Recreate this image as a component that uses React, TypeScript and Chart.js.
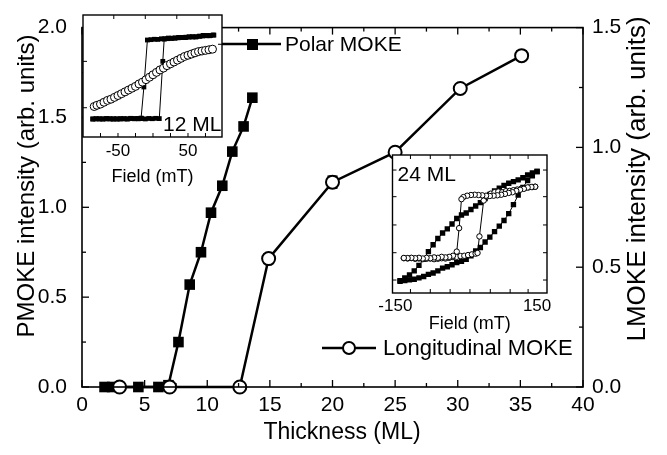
import React, { useEffect, useRef } from 'react';
import { Chart, registerables } from 'chart.js';

Chart.register(...registerables);

const FONT = "'Liberation Sans', Arial, Helvetica, sans-serif";
Chart.defaults.font.family = FONT;
Chart.defaults.color = '#000';

// ---------- main chart data ----------
const polarThickness = [1.8, 2.4, 4.5, 6.1, 6.9, 7.7, 8.6, 9.5, 10.3, 11.2, 12.0, 12.9, 13.6];
const polarIntensity = [0, 0, 0, 0, 0.01, 0.25, 0.57, 0.75, 0.97, 1.12, 1.31, 1.45, 1.61];
const longThickness = [3.0, 7.0, 12.6, 14.9, 20.0, 25.0, 30.2, 35.1];
const longIntensity = [0, 0, 0, 0.536, 0.855, 0.98, 1.246, 1.383];
const longError = [0, 0, 0, 0.02, 0.025, 0.015, 0.015, 0.02];

const xTickValues = [0, 5, 10, 15, 20, 25, 30, 35, 40];
const leftTickValues = [0, 0.5, 1.0, 1.5, 2.0];
const rightTickValues = [0, 0.5, 1.0, 1.5];

const xTitle = 'Thickness (ML)';
const leftTitle = 'PMOKE intensity (arb. units)';
const rightTitle = 'LMOKE intensity (arb. units)';

// ---------- inset 1 (12 ML) ----------
const in1PolarDownField = [87, 82, 77, 72, 67, 62, 57, 52, 47, 42, 37, 32, 27, 22, 17, 12, 7, 2, -3, -8, -13, -17, -22, -27, -32, -37, -42, -47, -52, -57, -62, -67, -72, -77, -82, -86];
const in1PolarDownSignal = [0.835, 0.832, 0.83, 0.833, 0.826, 0.822, 0.82, 0.821, 0.818, 0.815, 0.816, 0.812, 0.81, 0.811, 0.806, 0.805, 0.8, 0.801, 0.798, 0.795, 0.41, 0.155, 0.152, 0.15, 0.153, 0.148, 0.15, 0.147, 0.149, 0.146, 0.15, 0.148, 0.147, 0.15, 0.148, 0.147];
const in1PolarUpField = [-86, -81, -76, -71, -66, -61, -56, -51, -46, -41, -36, -31, -26, -21, -16, -11, -6, -1, 4, 9, 14, 16, 21, 26, 31, 36, 41, 46, 51, 56, 61, 66, 71, 76, 81, 86];
const in1PolarUpSignal = [0.148, 0.15, 0.147, 0.149, 0.152, 0.148, 0.15, 0.147, 0.151, 0.149, 0.148, 0.152, 0.15, 0.149, 0.151, 0.148, 0.152, 0.15, 0.153, 0.151, 0.62, 0.802, 0.806, 0.808, 0.81, 0.813, 0.816, 0.815, 0.819, 0.822, 0.82, 0.826, 0.828, 0.832, 0.83, 0.836];
const in1LongField = [-84, -80, -75, -70, -65, -60, -55, -50, -45, -40, -35, -30, -25, -20, -15, -10, -5, 0, 5, 10, 15, 20, 25, 30, 35, 40, 45, 50, 55, 60, 65, 70, 75, 80, 85];
const in1LongSignal = [0.25, 0.26, 0.27, 0.285, 0.3, 0.31, 0.325, 0.34, 0.355, 0.37, 0.385, 0.4, 0.415, 0.435, 0.45, 0.47, 0.49, 0.51, 0.53, 0.55, 0.565, 0.585, 0.6, 0.615, 0.63, 0.645, 0.66, 0.67, 0.68, 0.69, 0.7, 0.705, 0.71, 0.715, 0.72];
const in1TickLabels = [-50, 50];
const in1BottomTicks = [-75, -50, -25, 0, 25, 50, 75];
const in1TopTicks = [-56, -11, 34, 80];
const in1LeftTicks = [0.24, 0.62];
const in1RightTicks = [0.76];

// ---------- inset 2 (24 ML) ----------
const in2PolarDownField = [150, 140, 130, 120, 110, 100, 90, 80, 70, 60, 50, 40, 30, 20, 10, 0, -10, -20, -30, -40, -50, -60, -70, -80, -90, -100, -110, -120, -130, -140];
const in2PolarDownSignal = [0.88, 0.87, 0.855, 0.835, 0.82, 0.807, 0.795, 0.78, 0.76, 0.74, 0.715, 0.685, 0.655, 0.63, 0.605, 0.58, 0.565, 0.54, 0.5, 0.465, 0.435, 0.395, 0.35, 0.3, 0.245, 0.2, 0.16, 0.13, 0.11, 0.09];
const in2PolarUpField = [-140, -130, -120, -110, -100, -90, -80, -70, -60, -50, -40, -30, -20, -10, 0, 10, 20, 30, 40, 50, 60, 70, 80, 90, 100, 110, 120, 130, 140, 150];
const in2PolarUpSignal = [0.085, 0.09, 0.095, 0.1, 0.11, 0.12, 0.135, 0.145, 0.16, 0.18, 0.19, 0.205, 0.22, 0.23, 0.245, 0.27, 0.305, 0.33, 0.37, 0.405, 0.445, 0.485, 0.525, 0.575, 0.64, 0.71, 0.765, 0.815, 0.85, 0.88];
const in2LongDownField = [146, 138, 130, 122, 114, 106, 98, 90, 82, 74, 66, 58, 50, 42, 34, 26, 18, 10, 2, -6, -10, -15, -20, -28, -36, -44, -52, -60, -68, -76, -84, -92, -100, -108, -116, -124, -132];
const in2LongDownSignal = [0.77, 0.768, 0.765, 0.755, 0.748, 0.74, 0.73, 0.725, 0.718, 0.712, 0.708, 0.705, 0.703, 0.705, 0.708, 0.71, 0.712, 0.71, 0.705, 0.695, 0.68, 0.47, 0.3, 0.27, 0.262, 0.258, 0.262, 0.255, 0.258, 0.252, 0.255, 0.25, 0.255, 0.252, 0.255, 0.253, 0.254];
const in2LongUpField = [-132, -124, -116, -108, -100, -92, -84, -76, -68, -60, -52, -44, -36, -28, -20, -12, -4, 4, 12, 20, 24, 28, 37, 44, 52, 60, 68, 76, 84, 92, 100, 108, 116, 124, 132, 140, 146];
const in2LongUpSignal = [0.252, 0.25, 0.253, 0.248, 0.25, 0.245, 0.248, 0.25, 0.245, 0.248, 0.252, 0.25, 0.255, 0.26, 0.262, 0.268, 0.27, 0.275, 0.28, 0.285, 0.29, 0.41, 0.67, 0.7, 0.72, 0.73, 0.735, 0.73, 0.738, 0.74, 0.745, 0.75, 0.755, 0.76, 0.765, 0.768, 0.77];
const in2TickLabels = [-150, 150];
const in2XTicks = [-118, -76, -34, 8, 51, 93, 131];
const in2YTicks = [0.094, 0.292, 0.493, 0.698, 0.891];

const pts = (xs: number[], ys: number[]) => xs.map((x, i) => ({ x, y: ys[i] }));

function line(ctx: CanvasRenderingContext2D, x1: number, y1: number, x2: number, y2: number) {
  ctx.beginPath();
  ctx.moveTo(x1, y1);
  ctx.lineTo(x2, y2);
  ctx.stroke();
}

function vText(ctx: CanvasRenderingContext2D, text: string, cx: number, cy: number, size: number) {
  ctx.save();
  ctx.translate(cx, cy);
  ctx.rotate(-Math.PI / 2);
  ctx.font = `${size}px ${FONT}`;
  ctx.textAlign = 'center';
  ctx.textBaseline = 'middle';
  ctx.fillStyle = '#000';
  ctx.fillText(text, 0, 0);
  ctx.restore();
}

// ---------- main chart plugin ----------
const mainPlugin = {
  id: 'mainDecor',
  beforeDatasetsDraw(chart: any) {
    const ctx = chart.ctx;
    const meta = chart.getDatasetMeta(0);
    const y2 = chart.scales.y2;
    ctx.save();
    ctx.strokeStyle = '#000';
    ctx.lineWidth = 1.5;
    meta.data.forEach((el: any, i: number) => {
      const e = longError[i];
      if (!e) return;
      const yTop = y2.getPixelForValue(longIntensity[i] + e);
      const yBot = y2.getPixelForValue(longIntensity[i] - e);
      line(ctx, el.x, yTop, el.x, yBot);
      line(ctx, el.x - 5, yTop, el.x + 5, yTop);
      line(ctx, el.x - 5, yBot, el.x + 5, yBot);
    });
    ctx.restore();
  },
  afterDraw(chart: any) {
    const { ctx, chartArea: a, scales } = chart;
    ctx.save();
    ctx.strokeStyle = '#000';
    ctx.lineWidth = 1.6;
    ctx.strokeRect(a.left, a.top, a.right - a.left, a.bottom - a.top);
    ctx.lineWidth = 1.3;
    for (let v = 0; v <= 40; v += 2.5) {
      const px = scales.x.getPixelForValue(v);
      const len = v % 5 === 0 ? 7 : 4;
      line(ctx, px, a.bottom, px, a.bottom - len);
      line(ctx, px, a.top, px, a.top + len);
    }
    for (let v = 0; v <= 2; v += 0.25) {
      const py = scales.y.getPixelForValue(v);
      const len = Math.abs(v * 2 - Math.round(v * 2)) < 1e-6 ? 7 : 4;
      line(ctx, a.left, py, a.left + len, py);
    }
    for (let v = 0; v <= 1.5; v += 0.25) {
      const py = scales.y2.getPixelForValue(v);
      const len = Math.abs(v * 2 - Math.round(v * 2)) < 1e-6 ? 7 : 4;
      line(ctx, a.right, py, a.right - len, py);
    }
    // legends
    ctx.lineWidth = 2.5;
    line(ctx, 215, 44, 281, 44);
    ctx.fillStyle = '#000';
    ctx.fillRect(247, 39, 11, 11);
    line(ctx, 322, 348, 376, 348);
    ctx.beginPath();
    ctx.arc(349, 348, 6, 0, Math.PI * 2);
    ctx.fillStyle = '#fff';
    ctx.fill();
    ctx.lineWidth = 2;
    ctx.stroke();
    ctx.fillStyle = '#000';
    ctx.textBaseline = 'middle';
    ctx.textAlign = 'left';
    ctx.font = `21px ${FONT}`;
    ctx.fillText('Polar MOKE', 285, 45);
    ctx.font = `22px ${FONT}`;
    ctx.fillText('Longitudinal MOKE', 383, 349);
    // axis titles
    ctx.font = `23px ${FONT}`;
    ctx.textAlign = 'center';
    ctx.fillText(xTitle, 342, 433);
    ctx.restore();
    vText(ctx, leftTitle, 27, 186, 24);
    vText(ctx, rightTitle, 638, 179, 26);
  },
};

function mainConfig(): any {
  return {
    type: 'scatter',
    data: {
      datasets: [
        {
          label: 'Longitudinal MOKE',
          data: pts(longThickness, longIntensity),
          yAxisID: 'y2',
          showLine: true,
          borderColor: '#000',
          borderWidth: 2.5,
          pointStyle: 'circle',
          pointRadius: 6.5,
          pointBackgroundColor: '#fff',
          pointBorderColor: '#000',
          pointBorderWidth: 2,
          clip: false,
          order: 0,
        },
        {
          label: 'Polar MOKE',
          data: pts(polarThickness, polarIntensity),
          yAxisID: 'y',
          showLine: true,
          borderColor: '#000',
          borderWidth: 2.5,
          pointStyle: 'rect',
          pointRadius: 7.5,
          pointBackgroundColor: '#000',
          pointBorderColor: '#000',
          pointBorderWidth: 0,
          clip: false,
          order: 1,
        },
      ],
    },
    options: {
      responsive: false,
      animation: false,
      events: [],
      layout: { padding: { top: 15, left: 0, right: 0, bottom: 0 } },
      plugins: { legend: { display: false }, tooltip: { enabled: false } },
      scales: {
        x: {
          type: 'linear',
          position: 'bottom',
          min: 0,
          max: 40,
          grid: { display: false, drawTicks: false },
          border: { display: false },
          afterBuildTicks: (s: any) => { s.ticks = xTickValues.map((value) => ({ value })); },
          ticks: { font: { size: 21 }, color: '#000', padding: 6, maxRotation: 0, autoSkip: false, callback: (v: any) => String(v) },
          title: { display: false },
          afterFit: (s: any) => { s.height = 68; },
        },
        y: {
          type: 'linear',
          position: 'left',
          min: 0,
          max: 2,
          grid: { display: false, drawTicks: false },
          border: { display: false },
          afterBuildTicks: (s: any) => { s.ticks = leftTickValues.map((value) => ({ value })); },
          ticks: { font: { size: 21 }, color: '#000', padding: 15, autoSkip: false, callback: (v: any) => Number(v).toFixed(1) },
          title: { display: false },
          afterFit: (s: any) => { s.width = 82; },
        },
        y2: {
          type: 'linear',
          position: 'right',
          min: 0,
          max: 1.5,
          grid: { display: false, drawTicks: false },
          border: { display: false },
          afterBuildTicks: (s: any) => { s.ticks = rightTickValues.map((value) => ({ value })); },
          ticks: { font: { size: 21 }, color: '#000', padding: 9, autoSkip: false, callback: (v: any) => Number(v).toFixed(1) },
          title: { display: false },
          afterFit: (s: any) => { s.width = 84; },
        },
      },
    },
    plugins: [mainPlugin],
  };
}

// ---------- inset charts ----------
type InsetSpec = {
  label: string;
  labelX: number;
  labelY: number;
  xMin: number;
  xMax: number;
  tickLabels: number[];
  bottomTicks: number[];
  topTicks: number[];
  leftTicks: number[];
  rightTicks: number[];
  pad: { left: number; top: number; right: number };
  xHeight: number;
  tickPad: number;
  titleBottom: number;
  datasets: any[];
};

function insetPlugin(spec: InsetSpec) {
  return {
    id: 'insetDecor',
    beforeDraw(chart: any) {
      const { ctx, chartArea: a } = chart;
      ctx.save();
      ctx.fillStyle = '#fff';
      ctx.fillRect(a.left, a.top, a.right - a.left, a.bottom - a.top);
      ctx.restore();
    },
    afterDraw(chart: any) {
      const { ctx, chartArea: a, scales } = chart;
      ctx.save();
      ctx.strokeStyle = '#000';
      ctx.lineWidth = 1.4;
      ctx.strokeRect(a.left, a.top, a.right - a.left, a.bottom - a.top);
      ctx.lineWidth = 1;
      spec.bottomTicks.forEach((v) => {
        const px = scales.x.getPixelForValue(v);
        line(ctx, px, a.bottom, px, a.bottom - 4);
      });
      spec.topTicks.forEach((v) => {
        const px = scales.x.getPixelForValue(v);
        line(ctx, px, a.top, px, a.top + 4);
      });
      spec.leftTicks.forEach((v) => {
        const py = scales.y.getPixelForValue(v);
        line(ctx, a.left, py, a.left + 4, py);
      });
      spec.rightTicks.forEach((v) => {
        const py = scales.y.getPixelForValue(v);
        line(ctx, a.right, py, a.right - 4, py);
      });
      ctx.fillStyle = '#000';
      ctx.font = `21px ${FONT}`;
      ctx.textBaseline = 'middle';
      ctx.textAlign = 'left';
      ctx.fillText(spec.label, a.left + spec.labelX, a.top + spec.labelY);
      ctx.restore();
    },
  };
}

function squareSet(xs: number[], ys: number[], r: number) {
  return {
    data: pts(xs, ys),
    showLine: true,
    borderColor: '#000',
    borderWidth: 1,
    pointStyle: 'rect',
    pointRadius: r,
    pointBackgroundColor: '#000',
    pointBorderWidth: 0,
  };
}

function circleSet(xs: number[], ys: number[], r: number) {
  return {
    data: pts(xs, ys),
    showLine: true,
    borderColor: '#000',
    borderWidth: 1,
    pointStyle: 'circle',
    pointRadius: r,
    pointBackgroundColor: '#fff',
    pointBorderColor: '#000',
    pointBorderWidth: 1,
  };
}

function insetConfig(spec: InsetSpec): any {
  return {
    type: 'scatter',
    data: { datasets: spec.datasets },
    options: {
      responsive: false,
      animation: false,
      events: [],
      layout: { padding: { left: spec.pad.left, top: spec.pad.top, right: spec.pad.right, bottom: 0 } },
      plugins: { legend: { display: false }, tooltip: { enabled: false } },
      scales: {
        x: {
          type: 'linear',
          min: spec.xMin,
          max: spec.xMax,
          grid: { display: false, drawTicks: false },
          border: { display: false },
          afterBuildTicks: (s: any) => { s.ticks = spec.tickLabels.map((value) => ({ value })); },
          ticks: { font: { size: 17 }, color: '#000', padding: spec.tickPad, maxRotation: 0, autoSkip: false, callback: (v: any) => String(v) },
          title: { display: true, text: 'Field (mT)', font: { size: 18 }, color: '#000', padding: { top: 0, bottom: spec.titleBottom } },
          afterFit: (s: any) => { s.height = spec.xHeight; },
        },
        y: { display: false, min: 0, max: 1 },
      },
    },
    plugins: [insetPlugin(spec)],
  };
}

const inset1Spec: InsetSpec = {
  label: '12 ML',
  labelX: 80,
  labelY: 110,
  xMin: -100,
  xMax: 98.6,
  tickLabels: in1TickLabels,
  bottomTicks: in1BottomTicks,
  topTicks: in1TopTicks,
  leftTicks: in1LeftTicks,
  rightTicks: in1RightTicks,
  pad: { left: 13, top: 10, right: 13 },
  xHeight: 58,
  tickPad: 4,
  titleBottom: 7,
  datasets: [
    circleSet(in1LongField, in1LongSignal, 4),
    squareSet(in1PolarDownField, in1PolarDownSignal, 3.4),
    squareSet(in1PolarUpField, in1PolarUpSignal, 3.4),
  ],
};

const inset2Spec: InsetSpec = {
  label: '24 ML',
  labelX: 5,
  labelY: 20,
  xMin: -156,
  xMax: 171,
  tickLabels: in2TickLabels,
  bottomTicks: in2XTicks,
  topTicks: in2XTicks,
  leftTicks: in2YTicks,
  rightTicks: in2YTicks,
  pad: { left: 17, top: 10, right: 13 },
  xHeight: 47,
  tickPad: 3,
  titleBottom: 5,
  datasets: [
    circleSet(in2LongDownField, in2LongDownSignal, 2.7),
    circleSet(in2LongUpField, in2LongUpSignal, 2.7),
    squareSet(in2PolarDownField, in2PolarDownSignal, 3.8),
    squareSet(in2PolarUpField, in2PolarUpSignal, 3.8),
  ],
};

export default function App() {
  const mainRef = useRef<HTMLCanvasElement>(null);
  const in1Ref = useRef<HTMLCanvasElement>(null);
  const in2Ref = useRef<HTMLCanvasElement>(null);

  useEffect(() => {
    const charts = [
      new Chart(mainRef.current as HTMLCanvasElement, mainConfig()),
      new Chart(in1Ref.current as HTMLCanvasElement, insetConfig(inset1Spec)),
      new Chart(in2Ref.current as HTMLCanvasElement, insetConfig(inset2Spec)),
    ];
    return () => charts.forEach((c) => c.destroy());
  }, []);

  return (
    <div style={{ position: 'absolute', left: 0, top: 0, width: 667, height: 455, background: '#fff', overflow: 'hidden' }}>
      <canvas ref={mainRef} width={667} height={455} style={{ position: 'absolute', left: 0, top: 0, width: 667, height: 455 }} />
      <canvas ref={in1Ref} width={165} height={190} style={{ position: 'absolute', left: 70, top: 5, width: 165, height: 190 }} />
      <canvas ref={in2Ref} width={185} height={195} style={{ position: 'absolute', left: 375, top: 145, width: 185, height: 195 }} />
    </div>
  );
}
